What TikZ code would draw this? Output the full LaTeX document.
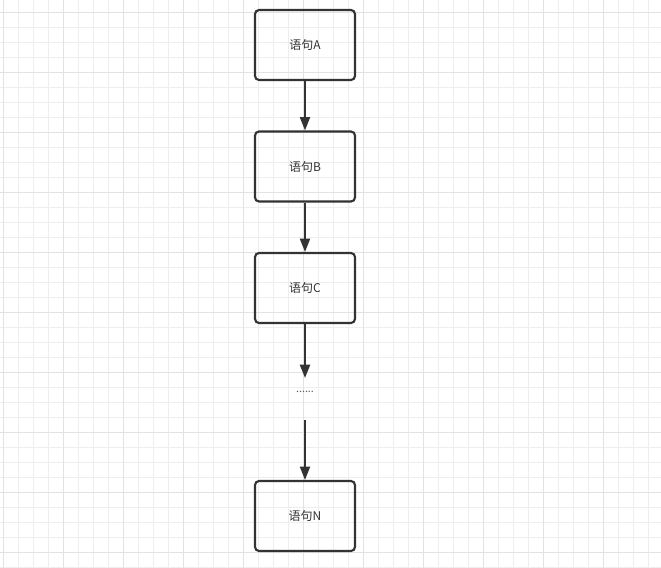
\documentclass[tikz,border=0pt]{standalone}
\usepackage{fontspec}
\newfontfamily\cjk{Noto Sans CJK SC}
\usetikzlibrary{arrows.meta}
\definecolor{minorgrid}{HTML}{EEEEEE}
\definecolor{majorgrid}{HTML}{E2E2E2}
\definecolor{ink}{HTML}{333333}
\tikzset{
  stmt/.style={draw=ink, line width=1.6pt, rounded corners=3pt, minimum width=75pt, minimum height=52.5pt, inner sep=0pt, font=\cjk\fontsize{9}{10}\selectfont, text=ink},
  arr/.style={draw=ink, line width=1.5pt, -{Triangle[length=10pt,width=7.5pt]}},
}
\begin{document}
\begin{tikzpicture}[x=0.75pt,y=-0.75pt]
\useasboundingbox (0,0) rectangle (661,568);
\fill[white] (0,0) rectangle (661,568);
% minor grid
\foreach \i in {0,...,44} {
  \draw[minorgrid, line width=0.7pt] ({3.3+15*\i},0) -- ({3.3+15*\i},568);
}
\foreach \j in {0,...,37} {
  \draw[minorgrid, line width=0.7pt] (0,{12.3+15*\j}) -- (661,{12.3+15*\j});
}
% major grid
\foreach \i in {0,...,10} {
  \draw[majorgrid, line width=0.7pt] ({3.3+60*\i},0) -- ({3.3+60*\i},568);
}
\foreach \j in {0,...,9} {
  \draw[majorgrid, line width=0.7pt] (0,{12.3+60*\j}) -- (661,{12.3+60*\j});
}
\node[stmt] (a) at (305,45) {语句A};
\node[stmt] (b) at (305,166.5) {语句B};
\node[stmt] (c) at (305,288) {语句C};
\node[stmt] (n) at (305,516) {语句N};
\node[font=\cjk\fontsize{8}{9}\selectfont, text=ink!80, inner sep=0pt] (dots) at (305,392) {......};
\coordinate (d1) at (305,378);
\coordinate (d2) at (305,420);
\draw[arr] (a) -- (b);
\draw[arr] (b) -- (c);
\draw[arr] (c) -- (d1);
\draw[arr] (d2) -- (n);
\end{tikzpicture}
\end{document}
